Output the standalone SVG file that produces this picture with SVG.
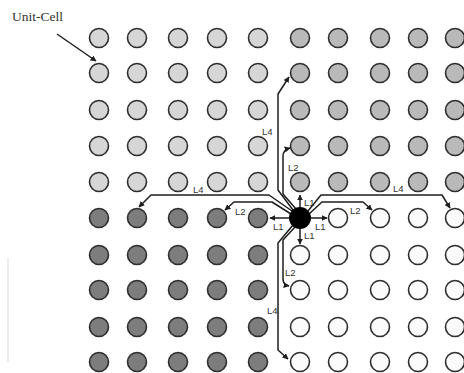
<svg xmlns="http://www.w3.org/2000/svg" width="464" height="373" viewBox="0 0 464 373">
<defs>
<style>
.c{stroke:#2e2e2e;stroke-width:1.6}
.a{fill:#d6d6d6}.b{fill:#b9b9b9}.d{fill:#7d7d7d}.w{fill:#fbfbfb}
.ln{fill:none;stroke:#1e1e1e;stroke-width:1.5;stroke-linejoin:round;marker-end:url(#ah)}
.lb{font-family:"Liberation Sans",Arial,sans-serif;font-size:9.5px;fill:#333}
</style>
<marker id="ah" viewBox="0 0 10 10" refX="9" refY="5" markerWidth="6" markerHeight="6" orient="auto" markerUnits="userSpaceOnUse">
<path d="M0,0 L10,5 L0,10 z" fill="#1e1e1e"/>
</marker>
</defs>
<rect width="464" height="373" fill="#ffffff"/>
<line x1="8" y1="258" x2="8" y2="362" stroke="#dadada" stroke-width="1"/>
<g id="unit-cell-label">
<text x="12" y="21" font-family="'Liberation Serif','Times New Roman',serif" font-size="13.5" fill="#333">Unit-Cell</text>
<line x1="57" y1="34" x2="96" y2="61" stroke="#1e1e1e" stroke-width="1.5" marker-end="url(#ah)"/>
</g>
<g id="grid">
<g id="r0"><circle class="c a" cx="99" cy="38" r="9.5"/><circle class="c a" cx="137" cy="38" r="9.5"/><circle class="c a" cx="178" cy="38" r="9.5"/><circle class="c a" cx="217" cy="38" r="9.5"/><circle class="c a" cx="258" cy="38" r="9.5"/><circle class="c b" cx="300" cy="38" r="9.5"/><circle class="c b" cx="338" cy="38" r="9.5"/><circle class="c b" cx="380" cy="38" r="9.5"/><circle class="c b" cx="418" cy="38" r="9.5"/><circle class="c b" cx="455" cy="38" r="9.5"/></g>
<g id="r1"><circle class="c a" cx="99" cy="73" r="9.5"/><circle class="c a" cx="137" cy="73" r="9.5"/><circle class="c a" cx="178" cy="73" r="9.5"/><circle class="c a" cx="217" cy="73" r="9.5"/><circle class="c a" cx="258" cy="73" r="9.5"/><circle class="c b" cx="300" cy="73" r="9.5"/><circle class="c b" cx="338" cy="73" r="9.5"/><circle class="c b" cx="380" cy="73" r="9.5"/><circle class="c b" cx="418" cy="73" r="9.5"/><circle class="c b" cx="455" cy="73" r="9.5"/></g>
<g id="r2"><circle class="c a" cx="99" cy="110" r="9.5"/><circle class="c a" cx="137" cy="110" r="9.5"/><circle class="c a" cx="178" cy="110" r="9.5"/><circle class="c a" cx="217" cy="110" r="9.5"/><circle class="c a" cx="258" cy="110" r="9.5"/><circle class="c b" cx="300" cy="110" r="9.5"/><circle class="c b" cx="338" cy="110" r="9.5"/><circle class="c b" cx="380" cy="110" r="9.5"/><circle class="c b" cx="418" cy="110" r="9.5"/><circle class="c b" cx="455" cy="110" r="9.5"/></g>
<g id="r3"><circle class="c a" cx="99" cy="146" r="9.5"/><circle class="c a" cx="137" cy="146" r="9.5"/><circle class="c a" cx="178" cy="146" r="9.5"/><circle class="c a" cx="217" cy="146" r="9.5"/><circle class="c a" cx="258" cy="146" r="9.5"/><circle class="c b" cx="300" cy="146" r="9.5"/><circle class="c b" cx="338" cy="146" r="9.5"/><circle class="c b" cx="380" cy="146" r="9.5"/><circle class="c b" cx="418" cy="146" r="9.5"/><circle class="c b" cx="455" cy="146" r="9.5"/></g>
<g id="r4"><circle class="c a" cx="99" cy="182" r="9.5"/><circle class="c a" cx="137" cy="182" r="9.5"/><circle class="c a" cx="178" cy="182" r="9.5"/><circle class="c a" cx="217" cy="182" r="9.5"/><circle class="c a" cx="258" cy="182" r="9.5"/><circle class="c b" cx="300" cy="182" r="9.5"/><circle class="c b" cx="338" cy="182" r="9.5"/><circle class="c b" cx="380" cy="182" r="9.5"/><circle class="c b" cx="418" cy="182" r="9.5"/><circle class="c b" cx="455" cy="182" r="9.5"/></g>
<g id="r5"><circle class="c d" cx="99" cy="218" r="9.5"/><circle class="c d" cx="137" cy="218" r="9.5"/><circle class="c d" cx="178" cy="218" r="9.5"/><circle class="c d" cx="217" cy="218" r="9.5"/><circle class="c d" cx="258" cy="218" r="9.5"/><circle class="c w" cx="338" cy="218" r="9.5"/><circle class="c w" cx="380" cy="218" r="9.5"/><circle class="c w" cx="418" cy="218" r="9.5"/><circle class="c w" cx="455" cy="218" r="9.5"/></g>
<g id="r6"><circle class="c d" cx="99" cy="255" r="9.5"/><circle class="c d" cx="137" cy="255" r="9.5"/><circle class="c d" cx="178" cy="255" r="9.5"/><circle class="c d" cx="217" cy="255" r="9.5"/><circle class="c d" cx="258" cy="255" r="9.5"/><circle class="c w" cx="300" cy="255" r="9.5"/><circle class="c w" cx="338" cy="255" r="9.5"/><circle class="c w" cx="380" cy="255" r="9.5"/><circle class="c w" cx="418" cy="255" r="9.5"/><circle class="c w" cx="455" cy="255" r="9.5"/></g>
<g id="r7"><circle class="c d" cx="99" cy="290" r="9.5"/><circle class="c d" cx="137" cy="290" r="9.5"/><circle class="c d" cx="178" cy="290" r="9.5"/><circle class="c d" cx="217" cy="290" r="9.5"/><circle class="c d" cx="258" cy="290" r="9.5"/><circle class="c w" cx="300" cy="290" r="9.5"/><circle class="c w" cx="338" cy="290" r="9.5"/><circle class="c w" cx="380" cy="290" r="9.5"/><circle class="c w" cx="418" cy="290" r="9.5"/><circle class="c w" cx="455" cy="290" r="9.5"/></g>
<g id="r8"><circle class="c d" cx="99" cy="327" r="9.5"/><circle class="c d" cx="137" cy="327" r="9.5"/><circle class="c d" cx="178" cy="327" r="9.5"/><circle class="c d" cx="217" cy="327" r="9.5"/><circle class="c d" cx="258" cy="327" r="9.5"/><circle class="c w" cx="300" cy="327" r="9.5"/><circle class="c w" cx="338" cy="327" r="9.5"/><circle class="c w" cx="380" cy="327" r="9.5"/><circle class="c w" cx="418" cy="327" r="9.5"/><circle class="c w" cx="455" cy="327" r="9.5"/></g>
<g id="r9"><circle class="c d" cx="99" cy="362" r="9.5"/><circle class="c d" cx="137" cy="362" r="9.5"/><circle class="c d" cx="178" cy="362" r="9.5"/><circle class="c d" cx="217" cy="362" r="9.5"/><circle class="c d" cx="258" cy="362" r="9.5"/><circle class="c w" cx="300" cy="362" r="9.5"/><circle class="c w" cx="338" cy="362" r="9.5"/><circle class="c w" cx="380" cy="362" r="9.5"/><circle class="c w" cx="418" cy="362" r="9.5"/><circle class="c w" cx="455" cy="362" r="9.5"/></g>
</g>
<g id="connectors">
<path class="ln" d="M300,207 L300,195"/>
<path class="ln" d="M300,229 L300,244"/>
<path class="ln" d="M289,218 L270,218"/>
<path class="ln" d="M311,218 L327,218"/>
<path class="ln" d="M293,210 L278,190 L278,94 L289,77"/>
<path class="ln" d="M296,209 L283,194 L283,156 Q283,150 290,148"/>
<path class="ln" d="M292,211 L269,195 L151,195 L139,207"/>
<path class="ln" d="M291,214 L272,202 L234,202 L225,210"/>
<path class="ln" d="M308,211 L321,195 L442,195 L450,208"/>
<path class="ln" d="M309,214 L322,202 L363,202 L372,210"/>
<path class="ln" d="M295,227 L283,240 L283,279 Q283,285 289,286"/>
<path class="ln" d="M293,225 L278,243 L278,350 L288,359"/>
</g>
<g id="source-node"><circle cx="300" cy="218" r="11" fill="#000"/></g>
<g id="labels">
<text class="lb" x="304" y="206">L1</text>
<text class="lb" x="273" y="230">L1</text>
<text class="lb" x="315" y="230">L1</text>
<text class="lb" x="304" y="239">L1</text>
<text class="lb" x="288" y="171">L2</text>
<text class="lb" x="262" y="135">L4</text>
<text class="lb" x="193" y="193">L4</text>
<text class="lb" x="235" y="215">L2</text>
<text class="lb" x="350" y="214">L2</text>
<text class="lb" x="393" y="192">L4</text>
<text class="lb" x="285" y="276">L2</text>
<text class="lb" x="267" y="314">L4</text>
</g>
</svg>
